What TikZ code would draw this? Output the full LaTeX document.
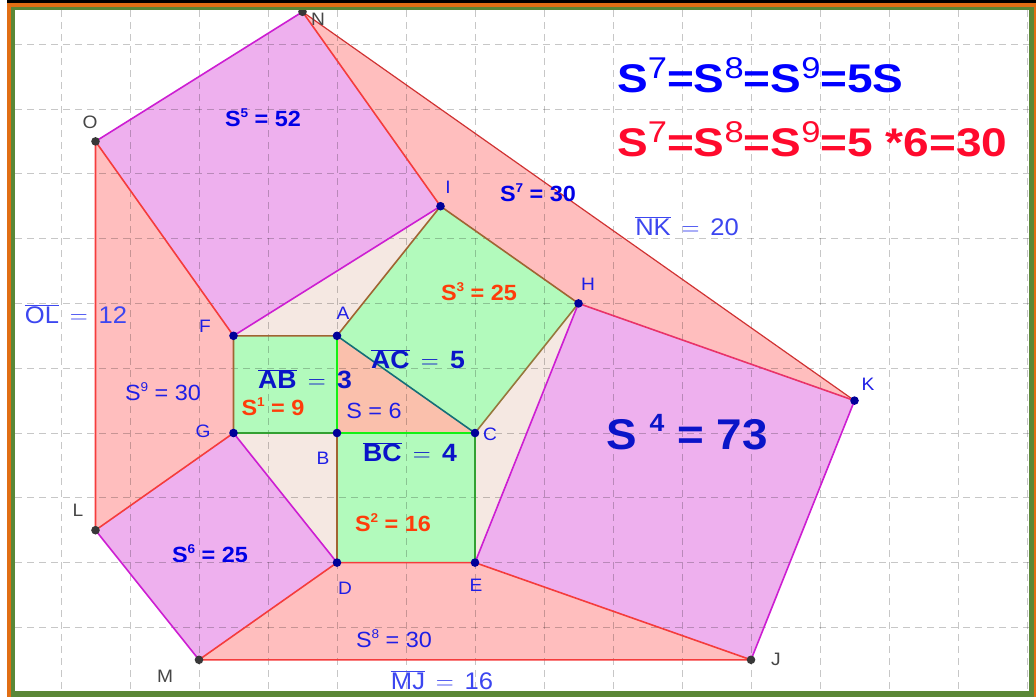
\documentclass[tikz,border=0pt]{standalone}
\usepackage{fontspec}
\setmainfont{Liberation Sans}[FakeStretch=1.065]
\newfontfamily\headfont{Liberation Sans}[FakeStretch=1.15]
\definecolor{grn}{RGB}{178,250,188}
\definecolor{vio}{RGB}{238,176,238}
\definecolor{rpk}{RGB}{255,190,190}
\definecolor{bge}{RGB}{245,232,226}
\definecolor{sal}{RGB}{250,192,172}
\definecolor{redl}{RGB}{245,60,60}
\definecolor{mag}{RGB}{205,30,210}
\definecolor{brn}{RGB}{160,100,50}
\definecolor{dgrn}{RGB}{50,160,50}
\definecolor{lgrn}{RGB}{20,240,20}
\definecolor{tealx}{RGB}{20,110,120}
\definecolor{olv}{RGB}{150,120,60}
\definecolor{ptblue}{RGB}{30,30,230}
\definecolor{ptgray}{RGB}{70,70,70}
\definecolor{lblue}{RGB}{60,70,240}
\definecolor{bblue}{RGB}{0,0,230}
\definecolor{dblue}{RGB}{10,20,200}
\definecolor{orr}{RGB}{255,60,10}
\definecolor{hred}{RGB}{255,10,45}
\definecolor{frO}{RGB}{225,110,20}
\definecolor{frG}{RGB}{90,135,55}
\newcommand\supx[1]{\raisebox{0.42em}{\scalebox{0.58}{#1}}}
\newcommand\suph[1]{\raisebox{0.36em}{\scalebox{0.75}{\mdseries #1}}}
\newcommand\ovl[1]{$\overline{\hbox{#1}}$}
\newcommand\eqq{\hspace{0.45em}$=$\hspace{0.45em}}
\begin{document}
\begin{tikzpicture}[x=1pt,y=-1pt,
  edge/.style={line width=1.6pt},
  gridl/.style={line width=1pt,black,opacity=0.22,dash pattern=on 7pt off 5pt},
  bdot/.style={fill=blue!60!black},
  gdot/.style={fill=ptgray!80!black},
  ptl/.style={font=\fontsize{18}{21}\selectfont,text=ptblue,inner sep=0pt},
  ptg/.style={font=\fontsize{18}{21}\selectfont,text=ptgray,inner sep=0pt},
  bl/.style={font=\fontsize{22}{26}\bfseries\selectfont,inner sep=0pt},
  rl/.style={font=\fontsize{22}{26}\selectfont,text=ptblue,inner sep=0pt},
  ol/.style={font=\fontsize{24}{28}\selectfont,text=lblue,inner sep=0pt},
  obl/.style={font=\fontsize{25}{29}\bfseries\selectfont,text=dblue,inner sep=0pt},
  head/.style={font=\headfont\fontsize{40}{46}\bfseries\selectfont,inner sep=0pt,anchor=west}]
\useasboundingbox (0,0) rectangle (1036,697);
\fill[white] (0,0) rectangle (1036,697);
\begin{scope}[shift={(337,433)},x=34.5pt,y=32.4pt]
  \coordinate (A) at (0,3);
  \coordinate (B) at (0,0);
  \coordinate (C) at (4,0);
  \coordinate (F) at (-3,3);
  \coordinate (G) at (-3,0);
  \coordinate (D) at (0,-4);
  \coordinate (E) at (4,-4);
  \coordinate (H) at (7,4);
  \coordinate (I) at (3,7);
  \coordinate (N) at (-1,13);
  \coordinate (O) at (-7,9);
  \coordinate (L) at (-7,-3);
  \coordinate (M) at (-4,-7);
  \coordinate (J) at (12,-7);
  \coordinate (K) at (15,1);
\end{scope}
% fills
\fill[rpk] (N)--(I)--(H)--(K)--cycle;
\fill[rpk] (O)--(F)--(G)--(L)--cycle;
\fill[rpk] (M)--(D)--(E)--(J)--cycle;
\fill[vio] (O)--(N)--(I)--(F)--cycle;
\fill[vio] (H)--(K)--(J)--(E)--cycle;
\fill[vio] (G)--(D)--(M)--(L)--cycle;
\fill[bge] (F)--(A)--(I)--cycle;
\fill[bge] (G)--(B)--(D)--cycle;
\fill[bge] (C)--(E)--(H)--cycle;
\fill[grn] (A)--(B)--(G)--(F)--cycle;
\fill[grn] (B)--(C)--(E)--(D)--cycle;
\fill[grn] (A)--(C)--(H)--(I)--cycle;
\fill[sal] (A)--(B)--(C)--cycle;
% grid
\begin{scope}
  \clip (15,10) rectangle (1029,691);
  \foreach \k in {-4,...,10} \draw[gridl] ({337+69*\k},10) -- ({337+69*\k},691);
  \foreach \k in {-6,...,4} \draw[gridl] (15,{433+64.8*\k}) -- (1029,{433+64.8*\k});
\end{scope}
% edges
\draw[edge,mag] (O)--(N) (F)--(I) (H)--(E) (K)--(J) (L)--(M) (G)--(D);
\draw[edge,redl] (N)--(I) (O)--(F) (O)--(L) (G)--(L) (M)--(D) (M)--(J) (E)--(J) (D)--(E);
\draw[line width=1.2pt,redl!85!black] (N)--(K);
\draw[edge,redl!70!mag] (H)--(K);
\draw[edge,brn] (F)--(A) (F)--(G) (B)--(D) (A)--(I) (I)--(H);
\draw[edge,olv] (C)--(H);
\draw[edge,dgrn] (G)--(B);
\draw[line width=2.6pt,dgrn] (C)--(E);
\draw[edge,lgrn] (A)--(B);
\draw[line width=2.8pt,lgrn] (B)--(C);
\draw[edge,tealx] (A)--(C);
% dots
\foreach \p in {A,B,C,D,E,F,G,H,I,K} \fill[bdot] (\p) circle (4.3pt);
\foreach \p in {N,O,L,M,J} \fill[gdot] (\p) circle (4.3pt);
% point labels
\node[ptg] (lO) at (90,122) {O};
\node[ptg] (lN) at (318,19) {N};
\node[ptl] (lI) at (448,187) {I};
\node[ptl] (lH) at (588,284) {H};
\node[ptl] (lK) at (868,384) {K};
\node[ptl] (lF) at (205,326) {F};
\node[ptl] (lA) at (343,313) {A};
\node[ptl] (lG) at (203,431) {G};
\node[ptl] (lB) at (323,458) {B};
\node[ptl] (lC) at (490,434) {C};
\node[ptg] (lL) at (78,510) {L};
\node[ptl] (lD) at (345,588) {D};
\node[ptl] (lE) at (476,585) {E};
\node[ptg] (lM) at (165,676) {M};
\node[ptg] (lJ) at (776,659) {J};
% value labels
\node[bl,text=bblue] (s5) at (263,118) {S\supx{5} = 52};
\node[head,text=blue] (h1) at (617,75) {S\suph{7}=S\suph{8}=S\suph{9}=5S};
\node[head,text=hred] (h2) at (617,139) {S\suph{7}=S\suph{8}=S\suph{9}=5 *6=30};
\node[bl,text=bblue] (s7) at (538,193) {S\supx{7} = 30};
\node[ol] (nk) at (687,226) {\ovl{NK}\eqq 20};
\node[bl,text=orr] (s3) at (479,292) {S\supx{3} = 25};
\node[ol] (olb) at (76,314) {\ovl{OL}\eqq 12};
\node[obl] (ab) at (305,379) {\ovl{AB}\eqq 3};
\node[obl] (ac) at (418,359) {\ovl{AC}\eqq 5};
\node[rl] (s9) at (163,392) {S\supx{9} = 30};
\node[bl,text=orr] (s1) at (273,407) {S\supx{1} = 9};
\node[rl] (s0) at (374,411) {S = 6};
\node[obl] (bc) at (410,452) {\ovl{BC}\eqq 4};
\node[font=\fontsize{43}{49}\bfseries\selectfont,text=dblue,inner sep=0pt] (s4) at (687,432) {S \supx{4} = 73};
\node[bl,text=orr] (s2) at (393,523) {S\supx{2} = 16};
\node[bl,text=bblue] (s6) at (210,554) {S\supx{6} = 25};
\node[rl] (s8) at (394,639) {S\supx{8} = 30};
\node[ol] (mj) at (442,680) {\ovl{MJ}\eqq 16};
% frame
\fill[black] (7,0) rectangle (1036,3);
\fill[frO] (7,3) rectangle (11,697);
\fill[frO] (7,3) rectangle (1036,7);
\fill[frO] (1034,3) rectangle (1036,697);
\fill[frG] (11,7) rectangle (15,697);
\fill[frG] (11,7) rectangle (1034,10);
\fill[frG] (1029,7) rectangle (1034,697);
\fill[frG] (11,691) rectangle (1034,697);
\end{tikzpicture}
\end{document}
